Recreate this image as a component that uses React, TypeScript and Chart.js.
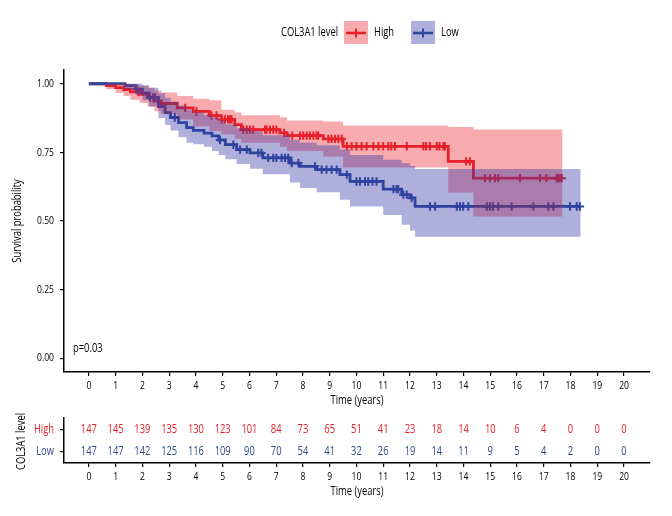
import React, { useEffect, useRef } from 'react';
import { Chart, registerables } from 'chart.js';
Chart.register(...registerables);

const FONT = "'Open Sans', 'Liberation Sans', sans-serif";
const SX = 0.78; // horizontal condensing of the text

const groups = ['High', 'Low'];
const legendTitle = 'COL3A1 level';
const pValueText = 'p=0.03';
const xTitle = 'Time (years)';
const yTitle = 'Survival probability';
const xTicks = [0, 1, 2, 3, 4, 5, 6, 7, 8, 9, 10, 11, 12, 13, 14, 15, 16, 17, 18, 19, 20];
const yTicks = [0, 0.25, 0.5, 0.75, 1];

// High group (red)
const highTimes = [0, 0.65, 1.0, 1.3, 1.55, 1.9, 2.2, 2.45, 2.7, 3.3, 3.9, 4.5, 4.95, 5.45, 5.7, 7.14, 7.4, 8.76, 9.5, 13.43, 14.37, 17.7];
const highSurv = [1, 0.993, 0.986, 0.979, 0.97, 0.961, 0.95, 0.937, 0.928, 0.912, 0.899, 0.884, 0.87, 0.851, 0.833, 0.821, 0.811, 0.799, 0.772, 0.717, 0.656, 0.656];
const highUpper = [1, 1, 1, 1, 0.998, 0.992, 0.985, 0.975, 0.968, 0.955, 0.945, 0.94, 0.905, 0.895, 0.885, 0.878, 0.866, 0.862, 0.848, 0.842, 0.833, 0.833];
const highLower = [1, 0.98, 0.966, 0.955, 0.942, 0.93, 0.915, 0.9, 0.89, 0.87, 0.845, 0.828, 0.815, 0.8, 0.785, 0.77, 0.755, 0.735, 0.695, 0.604, 0.516, 0.516];
const highCensor = [1.85, 2.4, 3.6, 4.02, 4.58, 4.77, 4.96, 5.08, 5.2, 5.27, 5.33, 5.77, 5.9, 6.02, 6.14, 6.58, 6.64, 6.77, 6.89, 7.01, 7.3, 7.6, 7.89, 8.01, 8.14, 8.26, 8.39, 8.51, 8.57, 8.95, 9.07, 9.2, 9.32, 9.45, 9.64, 9.82, 10.0, 10.19, 10.38, 10.63, 10.82, 11.0, 11.19, 11.3, 11.44, 11.88, 12.5, 12.6, 12.75, 13.0, 13.1, 13.25, 13.3, 14.1, 14.24, 14.8, 14.99, 15.18, 15.3, 16.11, 16.86, 17.1, 17.48, 17.54, 17.6, 17.67];

// Low group (blue)
const lowTimes = [0, 1.35, 1.75, 2.0, 2.25, 2.6, 2.85, 3.05, 3.35, 3.65, 3.9, 4.3, 4.6, 4.85, 5.1, 5.52, 6.02, 6.5, 7.51, 7.89, 8.51, 9.38, 9.76, 11.0, 11.69, 12.0, 12.19, 18.38];
const lowSurv = [1, 0.993, 0.98, 0.967, 0.95, 0.917, 0.895, 0.877, 0.858, 0.84, 0.83, 0.82, 0.81, 0.795, 0.778, 0.76, 0.748, 0.73, 0.711, 0.699, 0.687, 0.669, 0.644, 0.616, 0.596, 0.584, 0.553, 0.553];
const lowUpper = [1, 1, 1, 0.995, 0.985, 0.965, 0.948, 0.935, 0.92, 0.905, 0.895, 0.886, 0.878, 0.866, 0.852, 0.838, 0.828, 0.812, 0.796, 0.786, 0.776, 0.76, 0.74, 0.723, 0.71, 0.7, 0.689, 0.689];
const lowLower = [1, 0.98, 0.96, 0.94, 0.918, 0.875, 0.85, 0.83, 0.805, 0.785, 0.78, 0.77, 0.755, 0.74, 0.725, 0.708, 0.69, 0.67, 0.64, 0.62, 0.605, 0.577, 0.553, 0.522, 0.486, 0.465, 0.443, 0.443];
const lowCensor = [1.78, 2.28, 2.47, 3.21, 4.9, 5.4, 5.65, 5.9, 6.33, 6.45, 6.7, 6.89, 7.01, 7.2, 7.33, 7.45, 7.58, 7.83, 8.45, 8.7, 8.88, 9.07, 9.26, 9.64, 10.0, 10.13, 10.32, 10.44, 10.6, 10.75, 11.38, 11.5, 11.56, 11.75, 11.88, 12.06, 12.75, 12.94, 13.75, 13.87, 13.99, 14.18, 14.87, 14.99, 15.1, 15.3, 15.8, 16.61, 17.17, 17.36, 17.98, 18.23, 18.35];

// Number at risk
const riskTimes = xTicks;
const highRisk = [147, 145, 139, 135, 130, 123, 101, 84, 73, 65, 51, 41, 23, 18, 14, 10, 6, 4, 0, 0, 0];
const lowRisk = [147, 147, 142, 125, 116, 109, 90, 70, 54, 41, 32, 26, 19, 14, 11, 9, 5, 4, 2, 0, 0];

const RED = '#E8202A';
const BLUE = '#2B4A9B';
const BLUE_TEXT = '#2D4A86';
const RED_BAND = 'rgba(235,35,45,0.38)';
const BLUE_BAND = 'rgba(55,55,165,0.4)';

const X_MIN = -0.93;
const X_MAX = 20.97;

function survAt(times: number[], surv: number[], t: number) {
  let v = surv[0];
  for (let i = 0; i < times.length; i++) if (times[i] <= t) v = surv[i];
  return v;
}
const pts = (t: number[], v: number[]) => t.map((x, i) => ({ x, y: v[i] }));

function text(ctx: any, s: string, x: number, y: number, size: number, color: string, align: string, rotate = false) {
  ctx.save();
  ctx.translate(x, y);
  if (rotate) ctx.rotate(-Math.PI / 2);
  ctx.scale(SX, 1);
  ctx.font = `${size}px ${FONT}`;
  ctx.fillStyle = color;
  ctx.textAlign = align;
  ctx.textBaseline = 'middle';
  ctx.fillText(s, 0, 0);
  ctx.restore();
}

const axisGrid = { drawOnChartArea: false, drawTicks: true, tickLength: 4, color: '#000', lineWidth: 1.2 };
const axisBorder = { display: true, color: '#000', width: 1.5 };

function xScale(height: number) {
  return {
    type: 'linear' as const,
    min: X_MIN,
    max: X_MAX,
    afterBuildTicks: (s: any) => { s.ticks = xTicks.map((v) => ({ value: v })); },
    afterFit: (s: any) => { s.height = height; },
    ticks: { display: false },
    grid: axisGrid,
    border: axisBorder,
  };
}

function drawXAxisText(chart: any) {
  const ctx = chart.ctx;
  const xs = chart.scales.x;
  const base = xs.top;
  xTicks.forEach((v) => text(ctx, String(v), xs.getPixelForValue(v), base + 14, 11, '#000', 'center'));
  text(ctx, xTitle, (chart.chartArea.left + chart.chartArea.right) / 2, base + 29, 12, '#000', 'center');
}

const mainPlugin = {
  id: 'kmExtras',
  afterDraw(chart: any) {
    const ctx = chart.ctx;
    const ys = chart.scales.y;
    const area = chart.chartArea;
    drawXAxisText(chart);
    yTicks.forEach((v) => text(ctx, v.toFixed(2), 54, ys.getPixelForValue(v), 11, '#000', 'right'));
    text(ctx, yTitle, 18, (area.top + area.bottom) / 2, 12, '#000', 'center', true);
    // legend
    text(ctx, legendTitle, 281, 33, 12, '#000', 'left');
    const items = [
      { label: groups[0], x: 344, line: RED, band: RED_BAND },
      { label: groups[1], x: 411, line: BLUE, band: BLUE_BAND },
    ];
    for (const it of items) {
      ctx.save();
      ctx.fillStyle = it.band;
      ctx.fillRect(it.x, 21, 24, 23);
      ctx.strokeStyle = it.line;
      ctx.lineWidth = 2.6;
      ctx.beginPath();
      ctx.moveTo(it.x + 2, 33);
      ctx.lineTo(it.x + 22, 33);
      ctx.stroke();
      ctx.lineWidth = 2;
      ctx.beginPath();
      ctx.moveTo(it.x + 12, 28.5);
      ctx.lineTo(it.x + 12, 37.5);
      ctx.stroke();
      ctx.restore();
      text(ctx, it.label, it.x + 30, 33, 12, '#000', 'left');
    }
    text(ctx, pValueText, 73, ys.getPixelForValue(0.035), 12, '#000', 'left');
  },
};

const riskPlugin = {
  id: 'riskNumbers',
  afterDraw(chart: any) {
    const ctx = chart.ctx;
    const xs = chart.scales.x;
    const ys = chart.scales.y;
    const area = chart.chartArea;
    drawXAxisText(chart);
    const rows = [
      { vals: highRisk, color: RED, y: ys.getPixelForTick(0), label: groups[0] },
      { vals: lowRisk, color: BLUE_TEXT, y: ys.getPixelForTick(1), label: groups[1] },
    ];
    for (const r of rows) {
      text(ctx, r.label, 54, r.y, 12, r.color, 'right');
      r.vals.forEach((v, i) => text(ctx, String(v), xs.getPixelForValue(riskTimes[i]), r.y, 12, r.color, 'center'));
    }
    text(ctx, legendTitle, 22, (area.top + area.bottom) / 2 + 1, 12, '#000', 'center', true);
  },
};

export default function App() {
  const ref1 = useRef<HTMLCanvasElement>(null);
  const ref2 = useRef<HTMLCanvasElement>(null);

  useEffect(() => {
    const lineDs = (label: string, t: number[], v: number[], color: string, order: number) => ({
      type: 'line' as const,
      label,
      data: pts(t, v),
      borderColor: color,
      borderWidth: 2.8,
      pointRadius: 0,
      stepped: true,
      fill: false,
      order,
    });
    const censorDs = (label: string, c: number[], t: number[], v: number[], color: string, order: number) => ({
      type: 'line' as const,
      label,
      data: c.map((x) => ({ x, y: survAt(t, v, x) })),
      showLine: false,
      pointStyle: 'cross',
      pointRadius: 4.2,
      pointBorderWidth: 2,
      pointBorderColor: color,
      borderColor: color,
      order,
    });
    const bandDs = (label: string, t: number[], v: number[], fill: any, color: string, order: number) => ({
      type: 'line' as const,
      label,
      data: pts(t, v),
      borderWidth: 0,
      borderColor: 'rgba(0,0,0,0)',
      pointRadius: 0,
      stepped: true,
      fill,
      backgroundColor: color,
      order,
    });

    const c1 = new Chart(ref1.current!, {
      type: 'line',
      data: {
        datasets: [
          lineDs('High', highTimes, highSurv, RED, 10),
          lineDs('Low', lowTimes, lowSurv, BLUE, 9),
          censorDs('High censor', highCensor, highTimes, highSurv, RED, 8),
          censorDs('Low censor', lowCensor, lowTimes, lowSurv, BLUE, 7),
          bandDs('High upper', highTimes, highUpper, '+1', RED_BAND, 4),
          bandDs('High lower', highTimes, highLower, false, RED_BAND, 4),
          bandDs('Low upper', lowTimes, lowUpper, '+1', BLUE_BAND, 3),
          bandDs('Low lower', lowTimes, lowLower, false, BLUE_BAND, 3),
        ] as any,
      },
      options: {
        responsive: false,
        devicePixelRatio: 1,
        animation: false,
        events: [],
        layout: { padding: { left: 0, right: 22, top: 70, bottom: 0 } },
        plugins: { legend: { display: false }, tooltip: { enabled: false } },
        scales: {
          x: xScale(40) as any,
          y: {
            type: 'linear',
            min: -0.05,
            max: 1.05,
            afterBuildTicks: (s: any) => { s.ticks = yTicks.map((v) => ({ value: v })); },
            afterFit: (s: any) => { s.width = 64; },
            ticks: { display: false },
            grid: axisGrid,
            border: axisBorder,
          } as any,
        },
      },
      plugins: [mainPlugin],
    });

    const c2 = new Chart(ref2.current!, {
      type: 'scatter',
      data: { datasets: [{ data: [] }] },
      options: {
        responsive: false,
        devicePixelRatio: 1,
        animation: false,
        events: [],
        layout: { padding: { left: 0, right: 22, top: 6, bottom: 0 } },
        plugins: { legend: { display: false }, tooltip: { enabled: false } },
        scales: {
          x: xScale(53) as any,
          y: {
            type: 'category',
            labels: groups,
            offset: true,
            afterFit: (s: any) => { s.width = 64; },
            ticks: { display: false },
            grid: axisGrid,
            border: axisBorder,
          } as any,
        },
      },
      plugins: [riskPlugin],
    });

    return () => {
      c1.destroy();
      c2.destroy();
    };
  }, []);

  return (
    <div style={{ position: 'absolute', left: 0, top: 0, width: 672, height: 516, background: '#fff' }}>
      <canvas ref={ref1} width={672} height={412} style={{ position: 'absolute', left: 0, top: 0, width: 672, height: 412 }} />
      <canvas ref={ref2} width={672} height={104} style={{ position: 'absolute', left: 0, top: 412, width: 672, height: 104 }} />
    </div>
  );
}
